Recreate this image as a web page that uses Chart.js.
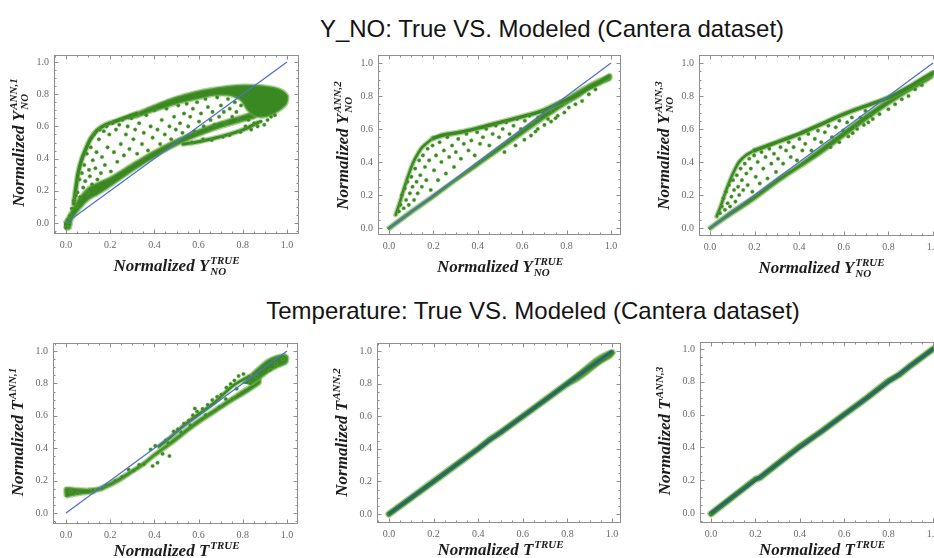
<!DOCTYPE html>
<html><head><meta charset="utf-8">
<script src="https://cdn.jsdelivr.net/npm/chart.js@4/dist/chart.umd.min.js"></script>
<style>
html,body{margin:0;padding:0;background:#fff;width:934px;height:558px;overflow:hidden;position:relative;font-family:"Liberation Sans",Arial,sans-serif}
.title{position:absolute;font-size:24px;color:#141414;white-space:nowrap;transform:translate(-50%,-50%);}
canvas{position:absolute}
</style></head><body>
<div class="title" id="t1" style="left:552px;top:29px"></div>
<div class="title" id="t2" style="left:533px;top:311px"></div>
<canvas id="c1"></canvas><canvas id="c2"></canvas><canvas id="c3"></canvas>
<canvas id="c4"></canvas><canvas id="c5"></canvas><canvas id="c6"></canvas>
<script>
// ---------------- DATA ----------------
const figureTitles = ['Y_NO: True VS. Modeled (Cantera dataset)', 'Temperature: True VS. Modeled (Cantera dataset)'];
const tickValues = [0, 0.2, 0.4, 0.6, 0.8, 1.0];
const tickLabels = ['0.0', '0.2', '0.4', '0.6', '0.8', '1.0'];
const identityLine = [[0, 0], [1, 1]];

const yNoXTitle = {base: 'Normalized Y', sub: 'NO', sup: 'TRUE'};
const yNoYTitles = [
  {base: 'Normalized Y', sub: 'NO', sup: 'ANN,1'},
  {base: 'Normalized Y', sub: 'NO', sup: 'ANN,2'},
  {base: 'Normalized Y', sub: 'NO', sup: 'ANN,3'}
];
const tXTitle = {base: 'Normalized T', sup: 'TRUE'};
const tYTitles = [
  {base: 'Normalized T', sup: 'ANN,1'},
  {base: 'Normalized T', sup: 'ANN,2'},
  {base: 'Normalized T', sup: 'ANN,3'}
];

// Panel 1: Y_NO, ANN 1
const yno1TopBlob = [[0.28,0.665],[0.35,0.705],[0.42,0.745],[0.5,0.785],[0.58,0.815],[0.65,0.835],[0.72,0.85],[0.8,0.858],[0.88,0.856],[0.94,0.845],[0.98,0.825],[1.005,0.79],[1.0,0.74],[0.97,0.70],[0.93,0.67],[0.89,0.655],[0.85,0.665],[0.82,0.7],[0.79,0.76],[0.74,0.79],[0.67,0.79],[0.6,0.77],[0.52,0.745],[0.45,0.715],[0.38,0.685],[0.32,0.655],[0.28,0.645]];
const yno1LowBlob = [[-0.01,0.0],[0.02,0.07],[0.05,0.14],[0.1,0.22],[0.15,0.255],[0.2,0.285],[0.3,0.37],[0.4,0.45],[0.5,0.52],[0.6,0.58],[0.7,0.63],[0.8,0.67],[0.86,0.69],[0.86,0.655],[0.8,0.63],[0.7,0.59],[0.6,0.54],[0.5,0.48],[0.4,0.405],[0.3,0.32],[0.2,0.225],[0.15,0.18],[0.1,0.14],[0.06,0.08],[0.03,0.02],[0.02,-0.035],[0.0,-0.04],[-0.01,-0.02]];
const yno1UpperBand = [[0.035,0.12],[0.045,0.22],[0.055,0.31],[0.07,0.39],[0.09,0.46],[0.11,0.52],[0.14,0.575],[0.18,0.61],[0.23,0.635],[0.28,0.66],[0.32,0.68]];
const yno1SubBand = [[0.53,0.49],[0.6,0.505],[0.68,0.53],[0.76,0.56],[0.82,0.59],[0.87,0.625]];
const yno1Scatter = [[0.052,0.19],[0.061,0.27],[0.064,0.16],[0.072,0.31],[0.078,0.22],[0.083,0.36],[0.087,0.26],[0.094,0.43],[0.098,0.19],[0.104,0.33],[0.108,0.29],[0.112,0.47],[0.118,0.24],[0.121,0.39],[0.127,0.55],[0.133,0.34],[0.138,0.44],[0.142,0.27],[0.149,0.52],[0.153,0.58],[0.158,0.31],[0.163,0.41],[0.171,0.57],[0.176,0.36],[0.184,0.6],[0.188,0.47],[0.196,0.55],[0.203,0.32],[0.211,0.62],[0.217,0.44],[0.226,0.58],[0.232,0.38],[0.241,0.61],[0.248,0.49],
  [0.256,0.64],[0.262,0.42],[0.271,0.55],[0.279,0.6],[0.287,0.46],[0.296,0.65],[0.305,0.52],[0.313,0.58],[0.322,0.43],[0.331,0.62],[0.344,0.49],[0.352,0.56],[0.363,0.67],[0.371,0.45],[0.383,0.6],[0.392,0.53],[0.401,0.7],[0.414,0.58],[0.426,0.49],[0.433,0.64],[0.447,0.55],[0.455,0.71],[0.468,0.6],[0.476,0.52],[0.489,0.66],[0.497,0.58],
  [0.508,0.73],[0.516,0.62],[0.527,0.56],[0.534,0.68],[0.546,0.74],[0.553,0.6],[0.562,0.66],[0.574,0.71],[0.581,0.57],[0.593,0.75],[0.602,0.63],[0.611,0.68],[0.623,0.6],[0.631,0.77],[0.642,0.72],[0.654,0.64],[0.663,0.69],[0.672,0.61],[0.684,0.78],[0.693,0.66],[0.701,0.73],[0.714,0.69],[0.722,0.62],[0.733,0.77],[0.741,0.71],[0.752,0.66],[0.764,0.75],[0.771,0.69],[0.783,0.64],[0.792,0.73],
  [0.812,0.6],[0.826,0.64],[0.838,0.58],[0.852,0.62],[0.867,0.6],[0.881,0.63],[0.897,0.61],[0.912,0.64],[0.928,0.66],[0.945,0.67],[0.62,0.52],[0.66,0.515],[0.71,0.535],[0.74,0.545],[0.79,0.565],[0.57,0.5],
  [0.0,-0.03],[0.008,0.02],[0.018,0.045],[0.026,0.09],[0.036,0.14],[0.044,0.17],[0.048,0.105],[0.015,-0.01]];

// Panel 2: Y_NO, ANN 2
const yno2LowBlob = [[-0.01,0.0],[0.1,0.11],[0.2,0.205],[0.3,0.3],[0.4,0.4],[0.5,0.5],[0.6,0.6],[0.7,0.7],[0.8,0.79],[0.86,0.84],[0.92,0.885],[0.97,0.915],[1.0,0.93],[1.0,0.9],[0.96,0.875],[0.9,0.835],[0.85,0.79],[0.8,0.75],[0.7,0.66],[0.6,0.565],[0.5,0.47],[0.4,0.375],[0.3,0.28],[0.2,0.18],[0.1,0.085],[0.03,0.015],[0.0,-0.015]];
const yno2UpperBand = [[0.2,0.545],[0.25,0.565],[0.32,0.58],[0.4,0.605],[0.5,0.64],[0.6,0.675],[0.69,0.71],[0.77,0.76],[0.84,0.8],[0.9,0.85],[0.95,0.885],[0.99,0.92]];
const yno2Steep = [[0.03,0.08],[0.05,0.16],[0.07,0.25],[0.09,0.33],[0.11,0.4],[0.13,0.45],[0.15,0.49],[0.18,0.525],[0.2,0.545]];
const yno2Scatter = [[0.045,0.1],[0.052,0.14],[0.058,0.2],[0.066,0.12],[0.071,0.24],[0.077,0.17],[0.083,0.28],[0.089,0.14],[0.094,0.21],[0.101,0.31],[0.106,0.25],[0.113,0.17],[0.118,0.36],[0.124,0.28],[0.129,0.21],[0.136,0.41],[0.141,0.32],[0.148,0.25],[0.153,0.44],[0.162,0.37],[0.168,0.29],[0.174,0.48],[0.181,0.41],[0.188,0.23],[0.196,0.5],[0.203,0.35],[0.212,0.44],[0.221,0.29],[0.228,0.52],[0.236,0.4],[0.247,0.47],[0.256,0.33],[0.263,0.55],[0.271,0.43],[0.284,0.5],[0.293,0.37],[0.301,0.46],[0.312,0.54],[0.324,0.42],[0.337,0.51],[0.349,0.57],[0.358,0.47],[0.371,0.53],[0.386,0.44],[0.397,0.58],[0.41,0.51],[0.423,0.55],[0.438,0.6],[0.452,0.5],[0.467,0.57],[0.481,0.62],[0.496,0.55],[0.512,0.6],[0.528,0.64],[0.543,0.57],[0.561,0.62],[0.577,0.66],[0.594,0.6],[0.612,0.65],[0.633,0.68],[0.651,0.63],[0.672,0.67],[0.694,0.7],[0.716,0.66],[0.738,0.71],
  [0.52,0.46],[0.57,0.5],[0.61,0.535],[0.64,0.56],[0.67,0.6],[0.7,0.625],[0.73,0.645],[0.76,0.68],[0.79,0.7],[0.81,0.73],[0.84,0.75],[0.87,0.77],[0.9,0.81],[0.93,0.84],[0.66,0.585],[0.75,0.665]];

// Panel 3: Y_NO, ANN 3
const yno3LowBlob = [[-0.01,0.0],[0.1,0.11],[0.2,0.2],[0.3,0.3],[0.4,0.39],[0.5,0.49],[0.6,0.59],[0.7,0.69],[0.8,0.78],[0.88,0.85],[0.95,0.9],[1.0,0.95],[1.0,0.915],[0.95,0.87],[0.88,0.815],[0.8,0.745],[0.7,0.65],[0.6,0.55],[0.5,0.45],[0.4,0.36],[0.3,0.27],[0.2,0.17],[0.1,0.08],[0.03,0.015],[0.0,-0.015]];
const yno3UpperBand = [[0.2,0.47],[0.25,0.495],[0.3,0.52],[0.4,0.57],[0.5,0.63],[0.6,0.69],[0.7,0.74],[0.8,0.79],[0.9,0.86],[0.96,0.91],[1.0,0.94]];
const yno3Steep = [[0.03,0.07],[0.05,0.14],[0.07,0.22],[0.09,0.29],[0.11,0.35],[0.13,0.4],[0.16,0.44],[0.2,0.47]];
const yno3Scatter = [[0.045,0.09],[0.053,0.13],[0.06,0.18],[0.067,0.11],[0.072,0.22],[0.079,0.15],[0.085,0.26],[0.09,0.13],[0.096,0.19],[0.103,0.29],[0.108,0.23],[0.114,0.16],[0.12,0.32],[0.126,0.25],[0.131,0.2],[0.137,0.36],[0.143,0.29],[0.149,0.23],[0.156,0.39],[0.163,0.33],[0.169,0.26],[0.176,0.42],[0.183,0.36],[0.19,0.22],[0.198,0.44],[0.205,0.31],[0.214,0.4],[0.223,0.27],[0.231,0.46],[0.239,0.36],[0.249,0.43],[0.258,0.3],[0.266,0.48],[0.275,0.39],[0.287,0.45],[0.296,0.34],[0.305,0.42],[0.316,0.49],[0.328,0.39],[0.341,0.47],[0.353,0.52],[0.362,0.43],[0.375,0.49],[0.39,0.41],[0.401,0.54],[0.414,0.47],[0.427,0.51],[0.441,0.57],[0.455,0.47],[0.47,0.54],[0.484,0.59],[0.499,0.52],[0.515,0.58],[0.531,0.62],[0.547,0.55],[0.564,0.61],[0.58,0.65],[0.597,0.59],[0.615,0.64],[0.636,0.67],[0.654,0.62],[0.675,0.67],[0.697,0.71],[0.72,0.68],
  [0.54,0.49],[0.58,0.52],[0.62,0.555],[0.66,0.6],[0.69,0.625],[0.73,0.66],[0.76,0.69],[0.8,0.72],[0.83,0.75],[0.86,0.78],[0.89,0.8],[0.92,0.84],[0.95,0.865],[0.71,0.64],[0.64,0.575]];

// Panel 4: T, ANN 1
const t1FlatBlob = [[-0.005,0.1],[-0.005,0.155],[0.04,0.155],[0.09,0.15],[0.13,0.145],[0.13,0.125],[0.08,0.115],[0.03,0.105],[0.0,0.095]];
const t1MainBlob = [[0.1,0.148],[0.15,0.16],[0.2,0.19],[0.25,0.228],[0.3,0.27],[0.35,0.315],[0.4,0.37],[0.45,0.42],[0.5,0.475],[0.55,0.53],[0.6,0.58],[0.65,0.625],[0.7,0.67],[0.75,0.715],[0.8,0.76],[0.85,0.8],[0.88,0.83],[0.88,0.8],[0.85,0.77],[0.8,0.725],[0.75,0.685],[0.7,0.64],[0.65,0.595],[0.6,0.55],[0.55,0.5],[0.5,0.445],[0.45,0.395],[0.4,0.345],[0.35,0.29],[0.3,0.245],[0.25,0.2],[0.2,0.163],[0.15,0.135],[0.1,0.125]];
const t1UpperBranch = [[0.42,0.41],[0.47,0.465],[0.52,0.525],[0.57,0.58],[0.62,0.63],[0.67,0.68],[0.71,0.73],[0.75,0.78],[0.79,0.815],[0.83,0.845]];
const t1TopBlob = [[0.8,0.8],[0.83,0.85],[0.87,0.9],[0.91,0.945],[0.95,0.97],[0.99,0.98],[1.005,0.965],[1.0,0.925],[0.96,0.9],[0.92,0.87],[0.88,0.83],[0.84,0.79]];
const t1Scatter = [[0.392,0.29],[0.414,0.31],[0.437,0.365],[0.468,0.352],[0.383,0.392],[0.404,0.415],[0.452,0.448],[0.487,0.503],[0.506,0.517],[0.534,0.552],[0.556,0.571],[0.574,0.603],[0.593,0.627],[0.583,0.645],[0.618,0.643],[0.641,0.668],[0.662,0.697],[0.684,0.718],[0.703,0.731],[0.726,0.774],[0.745,0.796],[0.762,0.818],[0.781,0.846],[0.803,0.858],[0.822,0.83],[0.772,0.767],[0.723,0.703],
  [0.352,0.302],[0.306,0.262],[0.254,0.222],[0.223,0.198],[0.183,0.172],[0.331,0.298],[0.283,0.268],[0.462,0.432],[0.521,0.498],[0.563,0.541],[0.632,0.604],[0.694,0.652],[0.752,0.703],[0.833,0.801],[0.861,0.842],[0.923,0.884],[0.951,0.921],[0.982,0.951],[0.122,0.141],[0.163,0.152],[0.052,0.123],[0.021,0.132]];

// Panel 5: T, ANN 2
const t2Band = [[0,0],[0.1,0.1],[0.2,0.2],[0.3,0.3],[0.4,0.4],[0.45,0.455],[0.5,0.5],[0.6,0.6],[0.7,0.7],[0.8,0.8],[0.9,0.9],[1.0,0.99]];
const t2TipBlob = [[0.8,0.81],[0.86,0.88],[0.92,0.95],[0.97,0.99],[1.0,1.0],[1.0,0.965],[0.95,0.925],[0.9,0.87],[0.85,0.82],[0.8,0.785]];

// Panel 6: T, ANN 3
const t3Band = [[0,-0.005],[0.1,0.1],[0.2,0.205],[0.22,0.215],[0.3,0.3],[0.4,0.405],[0.5,0.5],[0.6,0.6],[0.7,0.7],[0.8,0.805],[0.85,0.845],[0.9,0.9],[1.0,1.0]];

// ---------------- STYLE / LAYOUT ----------------
document.getElementById('t1').textContent = figureTitles[0];
document.getElementById('t2').textContent = figureTitles[1];

const GREEN = '#3a8822';
const HALO = 'rgba(104,170,70,0.55)';
const BLUE = '#4f70d2';
const TEAL = 'rgba(38,92,138,0.85)';
const SERIF = '"Liberation Serif", "Times New Roman", serif';
const PAD_L = 56, PAD_T = 8, PAD_R = 12, PAD_B = 45;

const pts = a => a.map(([x, y]) => ({x, y}));
const diagDs = (color, w) => ({type: 'line', data: pts(identityLine), borderColor: color, borderWidth: w, pointRadius: 0, fill: false, tension: 0});
const scatterDs = a => ({type: 'scatter', data: pts(a), pointRadius: 1.8, backgroundColor: GREEN, borderColor: HALO, borderWidth: 0.8, pointHoverRadius: 0});
const bandDs = (a, w, t, color) => ({type: 'line', data: pts(a), borderColor: color || GREEN, borderWidth: w, pointRadius: 0, fill: false, tension: t === undefined ? 0.3 : t, borderCapStyle: 'round', borderJoinStyle: 'round'});
const blobDs = a => ({type: 'line', data: pts(a), borderColor: HALO, backgroundColor: GREEN, borderWidth: 2.5, pointRadius: 0, fill: 'shape', tension: 0.25, borderJoinStyle: 'round'});
const banded = (a, w, t) => [bandDs(a, w, t), bandDs(a, w + 2.5, t, HALO)];

function drawMath(ctx, cx, by, t) {
  const mainFont = 'italic bold 17px ' + SERIF;
  const scrFont = 'italic bold 11px ' + SERIF;
  ctx.font = mainFont;
  const w1 = ctx.measureText(t.base).width;
  ctx.font = scrFont;
  const w2 = Math.max(t.sup ? ctx.measureText(t.sup).width : 0, t.sub ? ctx.measureText(t.sub).width : 0);
  const x0 = cx - (w1 + 1 + w2) / 2;
  ctx.fillStyle = '#1c1c1c';
  ctx.textAlign = 'left';
  ctx.textBaseline = 'alphabetic';
  ctx.font = mainFont;
  ctx.fillText(t.base, x0, by);
  ctx.font = scrFont;
  if (t.sup) ctx.fillText(t.sup, x0 + w1 + 1, by - 7);
  if (t.sub) ctx.fillText(t.sub, x0 + w1 + 1, by + 4);
}

const mathTitles = {
  id: 'mathTitles',
  afterDraw(chart, args, o) {
    const ctx = chart.ctx, a = chart.chartArea, sx = chart.scales.x, sy = chart.scales.y;
    const cx = (sx.getPixelForValue(0) + sx.getPixelForValue(1)) / 2;
    const cy = (sy.getPixelForValue(0) + sy.getPixelForValue(1)) / 2;
    ctx.save();
    drawMath(ctx, cx, a.bottom + o.xOff, o.xTitle);
    ctx.translate(a.left - o.yOff, cy);
    ctx.rotate(-Math.PI / 2);
    drawMath(ctx, 0, 0, o.yTitle);
    ctx.restore();
  }
};

const frameTicks = {
  id: 'frameTicks',
  afterDraw(chart) {
    const ctx = chart.ctx, a = chart.chartArea, sx = chart.scales.x, sy = chart.scales.y;
    ctx.save();
    ctx.strokeStyle = '#8f8f8f';
    ctx.lineWidth = 1;
    ctx.strokeRect(a.left + 0.5, a.top + 0.5, a.right - a.left - 1, a.bottom - a.top - 1);
    ctx.beginPath();
    for (let i = -4; i <= 24; i++) {
      const v = i * 0.05, len = (i % 4 === 0) ? 4.5 : 2.5;
      if (v >= sx.min && v <= sx.max) {
        const p = Math.round(sx.getPixelForValue(v)) + 0.5;
        ctx.moveTo(p, a.bottom); ctx.lineTo(p, a.bottom - len);
        ctx.moveTo(p, a.top); ctx.lineTo(p, a.top + len);
      }
      if (v >= sy.min && v <= sy.max) {
        const p = Math.round(sy.getPixelForValue(v)) + 0.5;
        ctx.moveTo(a.left, p); ctx.lineTo(a.left + len, p);
        ctx.moveTo(a.right, p); ctx.lineTo(a.right - len, p);
      }
    }
    ctx.stroke();
    ctx.restore();
  }
};

const panels = [
  {id: 'c1', f: {L: 54, T: 55, R: 299, B: 234}, p: {x0: 66, x1: 287, y0: 223, y1: 62}, xTitle: yNoXTitle, yTitle: yNoYTitles[0], xOff: 37,
   datasets: [diagDs(BLUE, 1.3), scatterDs(yno1Scatter), ...banded(yno1UpperBand, 3.5), ...banded(yno1SubBand, 3), blobDs(yno1TopBlob), blobDs(yno1LowBlob)]},
  {id: 'c2', f: {L: 378, T: 55, R: 621, B: 235}, p: {x0: 389, x1: 611, y0: 228, y1: 63}, xTitle: yNoXTitle, yTitle: yNoYTitles[1], xOff: 37,
   datasets: [diagDs(BLUE, 1.3), scatterDs(yno2Scatter), ...banded(yno2UpperBand, 3.5), ...banded(yno2Steep, 2.5), blobDs(yno2LowBlob)]},
  {id: 'c3', f: {L: 699, T: 55, R: 944, B: 236}, p: {x0: 710, x1: 933, y0: 228, y1: 63}, xTitle: yNoXTitle, yTitle: yNoYTitles[2], xOff: 37,
   datasets: [diagDs(BLUE, 1.3), scatterDs(yno3Scatter), ...banded(yno3UpperBand, 3.5), ...banded(yno3Steep, 2.5), blobDs(yno3LowBlob)]},
  {id: 'c4', f: {L: 53, T: 343, R: 298, B: 524}, p: {x0: 66, x1: 287, y0: 513, y1: 351}, xTitle: tXTitle, yTitle: tYTitles[0], xOff: 32,
   datasets: [diagDs(BLUE, 1.3), scatterDs(t1Scatter), ...banded(t1UpperBranch, 2.5), blobDs(t1TopBlob), blobDs(t1FlatBlob), blobDs(t1MainBlob)]},
  {id: 'c5', f: {L: 377, T: 343, R: 621, B: 523}, p: {x0: 389, x1: 612, y0: 514, y1: 351}, xTitle: tXTitle, yTitle: tYTitles[1], xOff: 32,
   datasets: [diagDs(TEAL, 2.5), ...banded(t2Band, 5, 0), blobDs(t2TipBlob)]},
  {id: 'c6', f: {L: 700, T: 342, R: 944, B: 523}, p: {x0: 711, x1: 933, y0: 513, y1: 349}, xTitle: tXTitle, yTitle: tYTitles[2], xOff: 32,
   datasets: [diagDs(TEAL, 2.5), ...banded(t3Band, 5, 0)]}
];

panels.forEach(P => {
  const {f, p} = P;
  const cv = document.getElementById(P.id);
  const W = (f.R - f.L) + PAD_L + PAD_R, H = (f.B - f.T) + PAD_T + PAD_B;
  cv.width = W; cv.height = H;
  cv.style.left = (f.L - PAD_L) + 'px'; cv.style.top = (f.T - PAD_T) + 'px';
  cv.style.width = W + 'px'; cv.style.height = H + 'px';
  const ux = p.x1 - p.x0, uy = p.y0 - p.y1;
  const xmin = -(p.x0 - f.L) / ux, xmax = 1 + (f.R - p.x1) / ux;
  const ymin = -(f.B - p.y0) / uy, ymax = 1 + (p.y1 - f.T) / uy;
  const tickOpts = {font: {family: SERIF, size: 10}, color: '#6a6a6a', autoSkip: false, maxRotation: 0,
    callback: v => { const i = tickValues.indexOf(v); return i >= 0 ? tickLabels[i] : ''; }};
  new Chart(cv, {
    type: 'scatter',
    data: {datasets: P.datasets},
    options: {
      responsive: false, animation: false, devicePixelRatio: 1,
      layout: {padding: {left: 0, top: PAD_T, right: PAD_R, bottom: 0}},
      plugins: {legend: {display: false}, tooltip: {enabled: false},
        mathTitles: {xTitle: P.xTitle, yTitle: P.yTitle, xOff: P.xOff, yOff: 30}},
      events: [],
      scales: {
        x: {type: 'linear', min: xmin, max: xmax,
          afterBuildTicks: s => { s.ticks = tickValues.map(v => ({value: v})); },
          afterFit: s => { s.height = PAD_B; s.paddingLeft = 0; s.paddingRight = 0; },
          ticks: Object.assign({padding: 5}, tickOpts),
          grid: {display: false, drawTicks: false}, border: {display: false}},
        y: {type: 'linear', min: ymin, max: ymax,
          afterBuildTicks: s => { s.ticks = tickValues.map(v => ({value: v})); },
          afterFit: s => { s.width = PAD_L; s.paddingTop = 0; s.paddingBottom = 0; },
          ticks: Object.assign({padding: 5}, tickOpts),
          grid: {display: false, drawTicks: false}, border: {display: false}}
      }
    },
    plugins: [frameTicks, mathTitles]
  });
});
</script>
</body></html>
